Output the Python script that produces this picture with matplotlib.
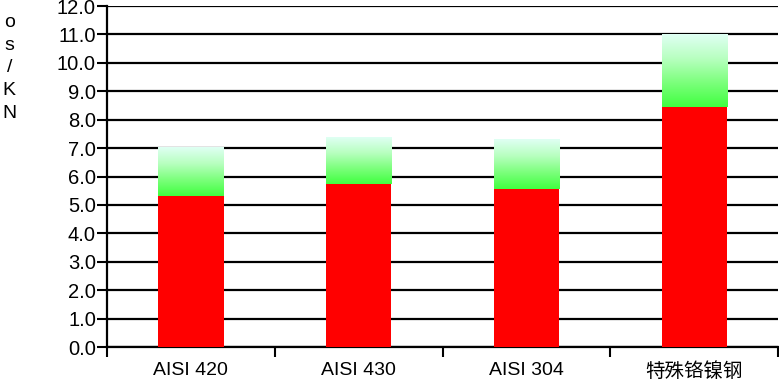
import matplotlib.pyplot as plt
import numpy as np
from matplotlib.colors import LinearSegmentedColormap

plt.rcParams['font.family'] = ['Liberation Sans', 'Noto Sans CJK SC', 'DejaVu Sans']

# 数据
categories = ['AISI 420', 'AISI 430', 'AISI 304', '特殊铬镍钢']
red_vals = [5.3, 5.75, 5.55, 8.45]
totals = [7.0, 7.4, 7.3, 11.0]
y_ticks = np.arange(0, 13, 1)

fig = plt.figure(figsize=(7.79, 3.82), dpi=100)
ax = fig.add_axes([0.1374, 0.0916, 0.8616, 0.8925])

x = np.arange(len(categories))
width = 0.39

ax.bar(x, red_vals, width, color='#ff0000', zorder=3)

green = LinearSegmentedColormap.from_list('g', ['#40ff40', '#7cff7c', '#b8ffc0', '#e0fff4'])
grad = np.linspace(0, 1, 256).reshape(-1, 1)
for xi, r, t in zip(x, red_vals, totals):
    ax.imshow(grad, cmap=green, origin='lower', aspect='auto', zorder=3,
              extent=[xi - width / 2, xi + width / 2, r, t], interpolation='bilinear')

ax.set_xlim(-0.5, len(categories) - 0.5)
ax.set_ylim(0, 12)
ax.set_yticks(y_ticks)
ax.set_yticklabels([f'{v:.1f}' for v in y_ticks], fontsize=14.5)
ax.yaxis.grid(True, color='black', linewidth=1.6, zorder=0)
ax.set_axisbelow(True)

# x 轴：刻度在类别之间
ax.set_xticks(np.arange(-0.5, len(categories), 1))
ax.set_xticklabels([])
ax.set_xticks(x, minor=True)
ax.set_xticklabels(categories, minor=True, fontsize=14)
ax.tick_params(axis='x', which='major', length=7, width=1.5, direction='out')
ax.tick_params(axis='x', which='minor', length=0, pad=11)
ax.tick_params(axis='y', length=7, width=1.5, pad=1)

for s in ['top', 'right']:
    ax.spines[s].set_visible(False)
for s in ['left', 'bottom']:
    ax.spines[s].set_linewidth(1.6)

fig.text(0.012, 0.822, 'o\ns\n/\nK\nN', fontsize=14, ha='center', va='center', linespacing=1.45)

plt.savefig('out.png', dpi=100)
plt.close()
